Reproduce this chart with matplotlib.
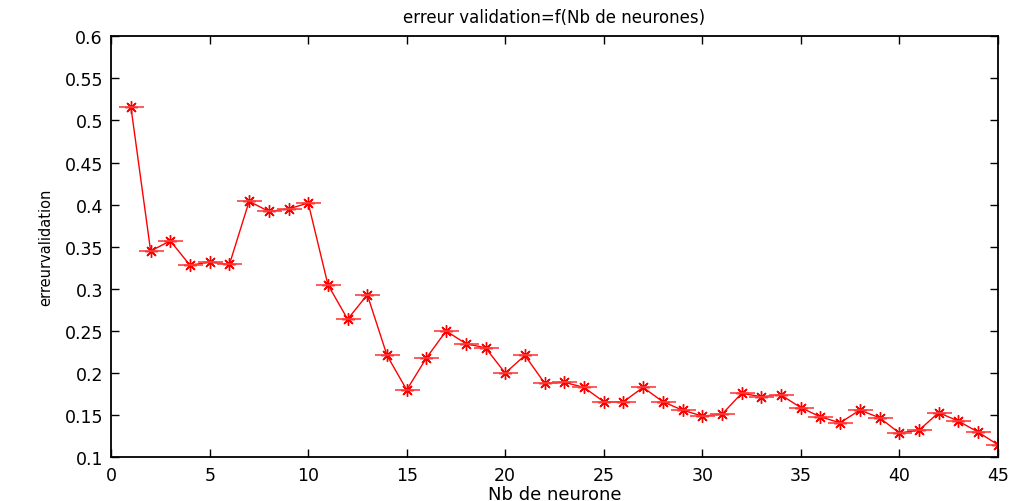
"""Erreur de validation en fonction du nombre de neurones."""

import matplotlib

matplotlib.use("Agg")
import matplotlib.pyplot as plt  # noqa: E402
from matplotlib.ticker import FuncFormatter  # noqa: E402

nb_neurones = list(range(1, 46))
erreur_validation = [
    0.516, 0.345, 0.357, 0.328, 0.332, 0.329, 0.404, 0.392, 0.395, 0.402,
    0.305, 0.264, 0.293, 0.221, 0.180, 0.218, 0.250, 0.235, 0.230, 0.200,
    0.221, 0.188, 0.189, 0.183, 0.166, 0.166, 0.183, 0.166, 0.156, 0.149,
    0.151, 0.176, 0.172, 0.174, 0.159, 0.148, 0.141, 0.156, 0.147, 0.129,
    0.132, 0.153, 0.143, 0.130, 0.115,
]
x_ticks = list(range(0, 50, 5))
y_ticks = [0.1, 0.15, 0.2, 0.25, 0.3, 0.35, 0.4, 0.45, 0.5, 0.55, 0.6]

plt.rcParams["font.family"] = ["DejaVu Sans"]

figure = plt.figure(figsize=(10.13, 5.02), dpi=100)
axis = figure.add_axes([0.1098, 0.0871, 0.8751, 0.8386])

axis.plot(nb_neurones, erreur_validation, color="red", linewidth=1.0)
axis.plot(nb_neurones, erreur_validation, linestyle="none", marker=(8, 2, 0),
          markersize=9, markeredgewidth=1.0, color="red")
axis.plot(nb_neurones, erreur_validation, linestyle="none", marker="_",
          markersize=18, markeredgewidth=1.2, color="#ff4040")

axis.set_xlim(0, 45)
axis.set_ylim(0.1, 0.6)
axis.set_xticks(x_ticks)
axis.set_yticks(y_ticks)
axis.yaxis.set_major_formatter(FuncFormatter(lambda v, _: f"{v:g}"))
axis.tick_params(direction="in", length=6, width=1, top=True, right=True,
                 labelsize=12.5, pad=6)
for spine in axis.spines.values():
    spine.set_linewidth(1.3)

axis.set_title("erreur validation=f(Nb de neurones)", fontsize=12, pad=10)
axis.set_xlabel("Nb de neurone", fontsize=13, labelpad=1)
axis.set_ylabel("erreurvalidation", fontsize=10.5, labelpad=8)

figure.savefig("out.png", dpi=100)
plt.close(figure)
